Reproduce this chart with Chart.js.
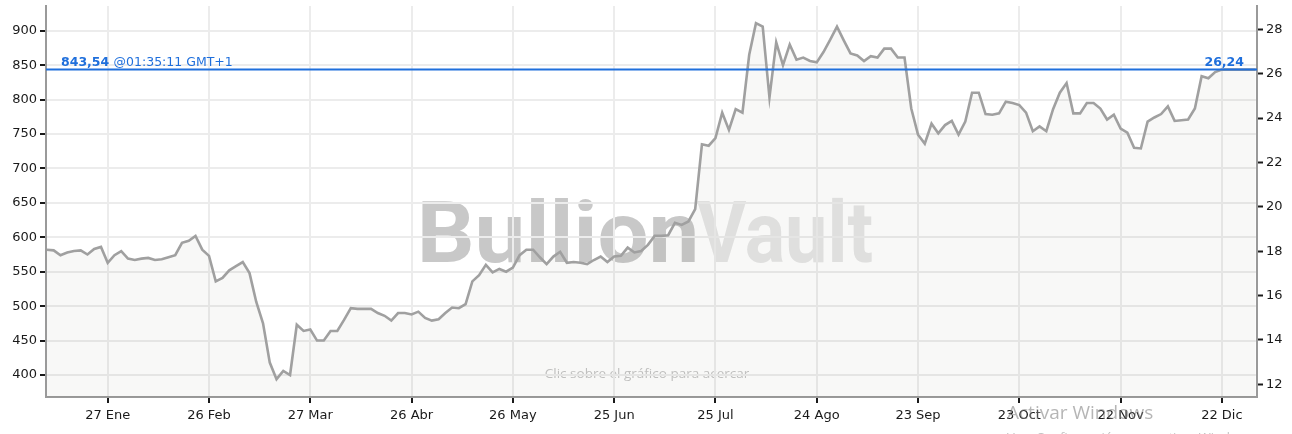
<!DOCTYPE html>
<html>
<head>
<meta charset="utf-8">
<script src="https://cdn.jsdelivr.net/npm/chart.js@4.4.1/dist/chart.umd.min.js"></script>
<style>
html,body{margin:0;padding:0;background:#fff;}
#wrap{position:relative;width:1292px;height:434px;overflow:hidden;}
canvas{display:block;}
.win1{position:absolute;left:1007px;top:399px;font:19px "Open Sans",sans-serif;color:rgba(120,120,120,0.55);white-space:nowrap;}
.win2{position:absolute;left:1007px;top:428px;font:13px "Open Sans",sans-serif;color:rgba(120,120,120,0.45);white-space:nowrap;}
</style>
</head>
<body>
<div id="wrap">
<canvas id="c" width="1292" height="434"></canvas>
<div class="win1">Activar Windows</div>
<div class="win2">Ve a Configuración para activar Windows.</div>
</div>
<script>
// ---- data (day of year 2024, every 2 days) ----
const firstDay = 8;
const dayStep = 2;
const values = [
582,581,574,578,580,581,575,583,586,563,
574,580,569,567,569,570,567,568,571,574,
592,595,602,582,573,536,541,552,558,564,
548,506,475,418,394,406,400,473,464,466,
450,450,464,464,480,497,496,496,496,490,
486,479,490,490,488,492,483,479,481,490,
498,497,503,536,545,560,549,554,550,556,
574,582,582,571,561,572,579,563,564,563,
561,567,572,564,572,573,585,578,580,589,
602,602,603,621,618,623,641,735,733,744,
781,756,786,781,865,911,906,803,883,850,
880,858,861,856,854,869,887,906,886,867,
864,856,863,861,874,874,861,861,787,749,
736,765,751,763,769,749,768,810,810,779,
778,780,797,795,792,781,754,761,754,786,
810,824,780,780,795,795,787,771,778,758,
752,730,729,768,774,779,790,769,770,771,
787,834,831,840,843.54,843.54,843.54,843.54,843.54,843.54
];
const days = values.map((v, i) => firstDay + i * dayStep);

const xTickDays = [26,56,86,116,146,176,206,236,266,296,326,356];
const xTickLabels = ['27 Ene','26 Feb','27 Mar','26 Abr','26 May','25 Jun','25 Jul','24 Ago','23 Sep','23 Oct','22 Nov','22 Dic'];
const leftTicks = [400,450,500,550,600,650,700,750,800,850,900];
const rightTicks = [12,14,16,18,20,22,24,26,28];

const lastPrice = 843.54;
const lastPriceText = '843,54';
const lastTimeText = '@01:35:11 GMT+1';
const lastRightText = '26,24';

const xMin = 7.72, xMax = 366.4;
const yMin = 368.05, yMax = 935.9;
const y2Min = 11.43, y2Max = 29.05;

const tickFont = {family: 'DejaVu Sans', size: 13};
const tickColor = '#1a1a1a';
const gridColor = '#ececec';
const axisColor = '#9a9a9a';
const blue = '#1f6fdc';

function drawWord(ctx, text, left, right, baseline, color) {
  const m = ctx.measureText(text);
  const inkW = m.actualBoundingBoxLeft + m.actualBoundingBoxRight;
  const s = (right - left) / inkW;
  ctx.save();
  ctx.translate(left, baseline);
  ctx.scale(s, 1);
  ctx.fillStyle = color;
  ctx.fillText(text, m.actualBoundingBoxLeft, 0);
  ctx.restore();
}

const watermark = {
  id: 'watermark',
  beforeDraw(chart) {
    const ctx = chart.ctx;
    ctx.save();
    ctx.font = 'bold 86px Roboto';
    ctx.textBaseline = 'alphabetic';
    ctx.textAlign = 'left';
    drawWord(ctx, 'Bullion', 422, 695, 261.5, 'rgb(200,200,200)');
    drawWord(ctx, 'Vault', 697, 872, 261.5, 'rgb(229,229,229)');
    ctx.restore();
    ctx.save();
    ctx.font = '13.5px "Open Sans"';
    ctx.fillStyle = '#c4c4c4';
    ctx.textAlign = 'center';
    ctx.textBaseline = 'alphabetic';
    ctx.fillText('Clic sobre el gráfico para acercar', 647, 378);
    ctx.restore();
  }
};

const priceLabels = {
  id: 'priceLabels',
  afterDatasetsDraw(chart) {
    const ctx = chart.ctx;
    const y = chart.scales.y.getPixelForValue(lastPrice);
    ctx.save();
    ctx.fillStyle = blue;
    ctx.textBaseline = 'alphabetic';
    ctx.font = 'bold 12.5px "DejaVu Sans"';
    ctx.textAlign = 'left';
    ctx.fillText(lastPriceText, 61, y - 4);
    const w = ctx.measureText(lastPriceText + ' ').width;
    ctx.font = '12.5px "DejaVu Sans"';
    ctx.fillText(lastTimeText, 61 + w, y - 4);
    ctx.font = 'bold 12.5px "DejaVu Sans"';
    ctx.textAlign = 'right';
    ctx.fillText(lastRightText, 1244, y - 4);
    ctx.restore();
  }
};

function noPad(s) {
  s.paddingTop = 0; s.paddingBottom = 0; s.paddingLeft = 0; s.paddingRight = 0;
}

new Chart(document.getElementById('c'), {
  type: 'line',
  data: {
    datasets: [
      {
        data: [{x: xMin, y: lastPrice}, {x: xMax, y: lastPrice}],
        borderColor: blue,
        borderWidth: 2,
        pointRadius: 0,
        fill: false
      },
      {
        data: values.map((v, i) => ({x: days[i], y: v})),
        borderColor: '#a0a0a0',
        borderWidth: 2.6,
        pointRadius: 0,
        tension: 0,
        fill: 'start',
        backgroundColor: 'rgba(100,100,60,0.045)'
      }
    ]
  },
  options: {
    responsive: false,
    animation: false,
    devicePixelRatio: 1,
    layout: {padding: {top: 6, left: 0, right: 0, bottom: 0}},
    plugins: {legend: {display: false}, tooltip: {enabled: false}},
    scales: {
      x: {
        type: 'linear',
        min: xMin, max: xMax,
        afterBuildTicks: s => { s.ticks = xTickDays.map(v => ({value: v})); },
        afterFit: s => { s.height = 37; noPad(s); },
        ticks: {
          callback: (v, i) => xTickLabels[i],
          font: tickFont, color: tickColor, padding: 5,
          autoSkip: false, maxRotation: 0
        },
        grid: {color: gridColor, lineWidth: 2, tickColor: tickColor, tickWidth: 2, tickLength: 6},
        border: {color: axisColor, width: 2}
      },
      y: {
        position: 'left',
        min: yMin, max: yMax,
        afterBuildTicks: s => { s.ticks = leftTicks.map(v => ({value: v})); },
        afterFit: s => { s.width = 46; noPad(s); },
        ticks: {font: tickFont, color: tickColor, padding: 3},
        grid: {color: gridColor, lineWidth: 2, tickColor: tickColor, tickWidth: 2, tickLength: 6},
        border: {color: axisColor, width: 2}
      },
      y2: {
        position: 'right',
        min: y2Min, max: y2Max,
        afterBuildTicks: s => { s.ticks = rightTicks.map(v => ({value: v})); },
        afterFit: s => { s.width = 35; noPad(s); },
        ticks: {font: tickFont, color: tickColor, padding: 3},
        grid: {drawOnChartArea: false, tickColor: tickColor, tickWidth: 2, tickLength: 6},
        border: {color: axisColor, width: 2}
      }
    }
  },
  plugins: [watermark, priceLabels]
});
</script>
</body>
</html>
